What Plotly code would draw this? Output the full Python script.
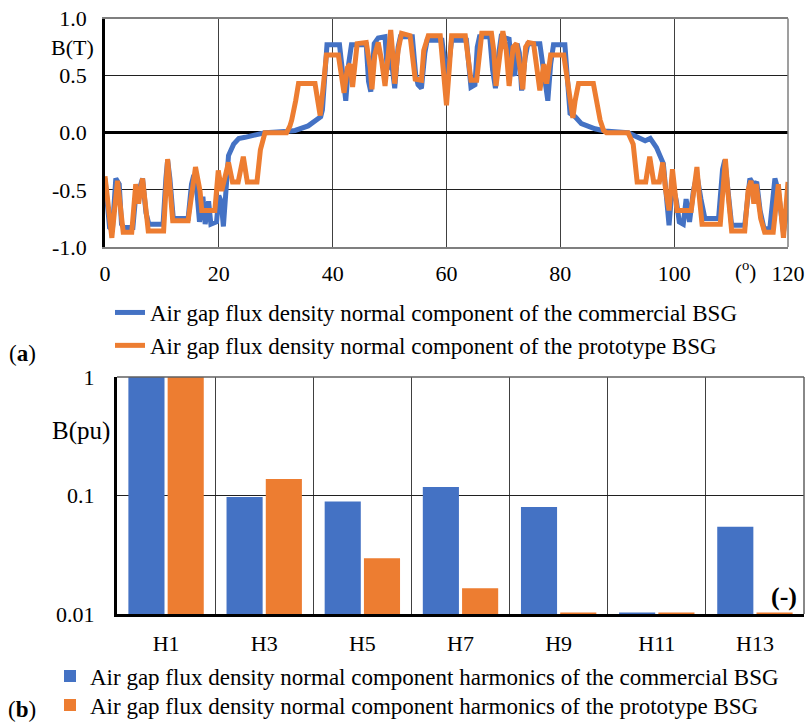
import plotly.graph_objects as go

# ---------- (a) air gap flux density waveform ----------
commercial_x = [0, 0.8, 1.3, 1.9, 2.5, 2.9, 3.3, 4.9, 5.4, 6.0, 6.6, 7.2, 7.7, 10.2, 10.7, 11.0, 11.4, 12.0,
                14.6, 15.2, 15.6, 16.2, 16.6, 17.2, 17.6, 18.2, 18.6, 19.6, 20.0, 20.4, 20.8, 21.2, 21.7, 22.6,
                23.5, 24.6, 26.5, 28.1, 31.6, 33.4, 35.7, 37.2, 37.9, 38.2, 38.6, 39.0, 41.2, 41.8, 42.3, 42.8,
                43.3, 45.9, 46.3, 46.7, 47.3, 48.0, 49.2, 49.6, 50.0, 50.4, 50.9, 51.5, 51.9, 54.0, 54.6, 55.0,
                55.6, 56.2, 56.6, 59.2, 59.6, 60.0, 60.4, 60.9, 63.5, 63.9, 64.3, 65.0, 65.4, 65.8, 67.6, 68.1,
                68.6, 69.2, 69.6, 71.0, 71.5, 72.0, 72.4, 72.8, 73.2, 73.8, 74.3, 76.4, 77.0, 77.5, 77.8, 78.3,
                78.8, 80.8, 81.3, 81.7, 82.6, 83.7, 86.1, 87.8, 91.9, 93.7, 94.9, 95.8, 96.9, 98.1, 98.7, 99.1,
                99.7, 100.4, 100.9, 101.6, 102.1, 102.7, 103.4, 104.0, 104.7, 105.4, 107.8, 108.5, 108.9, 109.3,
                110.1, 112.4, 113.3, 114.0, 114.5, 115.1, 115.8, 116.8, 117.7, 118.3, 119.2, 119.8, 120.0]
commercial_b = [-0.40, -0.83, -0.85, -0.40, -0.45, -0.80, -0.83, -0.83, -0.55, -0.50, -0.40, -0.70, -0.80, -0.80,
                -0.40, -0.24, -0.40, -0.75, -0.75, -0.45, -0.37, -0.55, -0.78, -0.56, -0.80, -0.60, -0.80, -0.78,
                -0.55, -0.60, -0.82, -0.50, -0.20, -0.10, -0.05, -0.04, -0.02, 0.00, 0.01, 0.02, 0.06, 0.11,
                0.14, 0.20, 0.55, 0.77, 0.77, 0.50, 0.28, 0.60, 0.77, 0.77, 0.45, 0.36, 0.78, 0.83, 0.84, 0.55,
                0.78, 0.60, 0.39, 0.75, 0.84, 0.84, 0.50, 0.42, 0.39, 0.70, 0.81, 0.81, 0.60, 0.50, 0.60, 0.81,
                0.81, 0.55, 0.40, 0.42, 0.75, 0.84, 0.84, 0.55, 0.39, 0.70, 0.84, 0.82, 0.55, 0.50, 0.78, 0.70,
                0.37, 0.65, 0.78, 0.78, 0.55, 0.40, 0.28, 0.60, 0.77, 0.77, 0.50, 0.17, 0.14, 0.08, 0.035, 0.015,
                0.00, -0.04, -0.07, -0.05, -0.13, -0.27, -0.56, -0.81, -0.45, -0.60, -0.78, -0.80, -0.58, -0.78,
                -0.50, -0.37, -0.58, -0.75, -0.75, -0.32, -0.24, -0.45, -0.81, -0.81, -0.40, -0.46, -0.43, -0.68,
                -0.84, -0.84, -0.40, -0.51, -0.87, -0.68, -0.56]

prototype_x = [0, 1.2, 2.2, 2.7, 3.2, 4.7, 5.4, 5.9, 6.6, 7.6, 10.3, 11.0, 11.9, 14.6, 15.9, 16.7, 17.0, 19.3,
               19.9, 20.5, 21.7, 22.4, 23.4, 24.3, 25.0, 26.7, 27.3, 28.1, 31.9, 32.5, 32.8, 33.5, 34.0, 36.9,
               37.4, 37.8, 38.4, 38.9, 41.0, 41.6, 42.0, 42.6, 43.1, 43.5, 44.3, 45.9, 46.6, 46.9, 47.4, 48.0,
               48.6, 49.2, 49.8, 50.2, 50.5, 50.9, 51.5, 52.1, 53.6, 54.2, 54.5, 55.6, 56.0, 56.8, 58.9, 59.4,
               60.0, 60.5, 60.9, 63.3, 63.8, 64.3, 65.3, 65.9, 66.2, 67.9, 68.3, 68.7, 69.4, 69.9, 70.5, 71.0,
               71.7, 72.3, 72.9, 73.4, 73.9, 74.4, 75.3, 75.8, 76.4, 77.1, 77.6, 78.3, 80.6, 81.1, 81.7, 82.2,
               82.6, 83.2, 85.8, 86.4, 87.0, 87.6, 88.1, 91.9, 92.8, 93.5, 95.0, 95.7, 96.4, 97.4, 98.0, 98.5,
               99.1, 99.7, 100.5, 103.0, 103.4, 104.0, 104.4, 104.9, 108.1, 108.6, 109.0, 109.5, 110.1, 112.4,
               113.0, 113.5, 114.0, 114.4, 115.2, 115.9, 117.4, 118.3, 119.2, 120.0]
prototype_b = [-0.38, -0.92, -0.42, -0.62, -0.87, -0.87, -0.45, -0.62, -0.40, -0.86, -0.86, -0.23, -0.77, -0.77,
               -0.30, -0.51, -0.68, -0.68, -0.33, -0.51, -0.26, -0.43, -0.43, -0.21, -0.43, -0.43, -0.15, 0.00,
               0.00, 0.06, 0.11, 0.28, 0.43, 0.43, 0.30, 0.15, 0.43, 0.68, 0.68, 0.46, 0.35, 0.57, 0.60, 0.40,
               0.78, 0.79, 0.57, 0.38, 0.68, 0.79, 0.63, 0.41, 0.78, 0.90, 0.72, 0.43, 0.72, 0.87, 0.85, 0.57,
               0.47, 0.46, 0.72, 0.85, 0.85, 0.57, 0.24, 0.57, 0.85, 0.85, 0.63, 0.46, 0.46, 0.78, 0.87, 0.87,
               0.72, 0.41, 0.72, 0.89, 0.72, 0.41, 0.75, 0.78, 0.57, 0.38, 0.75, 0.79, 0.78, 0.57, 0.37, 0.60,
               0.43, 0.68, 0.68, 0.51, 0.28, 0.13, 0.28, 0.43, 0.43, 0.28, 0.11, 0.02, 0.00, 0.00, -0.10, -0.43,
               -0.43, -0.21, -0.43, -0.43, -0.26, -0.50, -0.68, -0.32, -0.68, -0.68, -0.50, -0.30, -0.55, -0.80,
               -0.80, -0.45, -0.23, -0.55, -0.86, -0.86, -0.50, -0.42, -0.62, -0.45, -0.75, -0.87, -0.87, -0.45,
               -0.92, -0.43]

angle_ticks = [0, 20, 40, 60, 80, 100, 120]
b_ticks = [1.0, 0.5, 0.0, -0.5, -1.0]

# ---------- (b) harmonics ----------
harmonics = ["H1", "H3", "H5", "H7", "H9", "H11", "H13"]
harm_commercial = [1.0, 0.097, 0.089, 0.118, 0.080, 0.0103, 0.0545]
harm_prototype = [1.0, 0.138, 0.0295, 0.0165, 0.0103, 0.0103, 0.0103]

BLUE = "#4472C4"
ORANGE = "#ED7D31"
FONT = "Liberation Serif"
W, H = 806, 722
TICK = 22

def px_x(p):
    return p / W

def px_y(p):
    return 1 - p / H

fig = go.Figure()

fig.add_trace(go.Scatter(x=commercial_x, y=commercial_b, mode="lines",
                         line=dict(color=BLUE, width=5),
                         name="Air gap flux density normal component of the commercial BSG",
                         xaxis="x", yaxis="y", legend="legend", legendgroup="a1"))
fig.add_trace(go.Scatter(x=prototype_x, y=prototype_b, mode="lines",
                         line=dict(color=ORANGE, width=5),
                         name="Air gap flux density normal component of the prototype BSG",
                         xaxis="x", yaxis="y", legend="legend", legendgroup="a2"))

fig.add_trace(go.Bar(x=harmonics, y=harm_commercial, marker=dict(color=BLUE, line=dict(width=0)),
                     name="Air gap flux density normal component harmonics of the commercial BSG",
                     xaxis="x2", yaxis="y2", legend="legend2"))
fig.add_trace(go.Bar(x=harmonics, y=harm_prototype, marker=dict(color=ORANGE, line=dict(width=0)),
                     name="Air gap flux density normal component harmonics of the prototype BSG",
                     xaxis="x2", yaxis="y2", legend="legend3"))

top_dom_x = [px_x(105), px_x(788)]
top_dom_y = [px_y(247), px_y(18.5)]
bot_dom_x = [px_x(117), px_x(804)]
bot_dom_y = [px_y(614), px_y(377)]

fig.update_layout(
    width=W, height=H,
    margin=dict(l=0, r=0, t=0, b=0, autoexpand=False),
    paper_bgcolor="white", plot_bgcolor="white",
    font=dict(family=FONT, size=20, color="black"),
    bargap=0.2, bargroupgap=0.08,
    xaxis=dict(domain=top_dom_x, anchor="y", range=[0, 120], tickvals=angle_ticks,
               ticktext=[str(t) for t in angle_ticks], showgrid=True, gridcolor="#404040",
               gridwidth=1.3, zeroline=False, showline=True, linecolor="#7f7f7f", linewidth=1.5,
               mirror=True, ticks="", ticklabelstandoff=6, tickfont=dict(size=TICK),
               automargin=False),
    yaxis=dict(domain=top_dom_y, anchor="x", range=[-1, 1], tickvals=b_ticks,
               ticktext=["%.1f" % t for t in b_ticks], showgrid=True, gridcolor="#202020",
               gridwidth=1.3, zeroline=True, zerolinecolor="black", zerolinewidth=3,
               showline=True, linecolor="black", linewidth=2.5, ticks="",
               ticklabelstandoff=11, tickfont=dict(size=TICK), automargin=False),
    xaxis2=dict(domain=bot_dom_x, anchor="y2", type="category", tickson="boundaries",
                showgrid=True, gridcolor="#404040", gridwidth=1.2, showline=True,
                linecolor="black", linewidth=3, ticks="", ticklabelstandoff=8,
                tickfont=dict(size=TICK), automargin=False),
    yaxis2=dict(domain=bot_dom_y, anchor="x2", type="log", range=[-2, 0],
                tickvals=[0.01, 0.1, 1], ticktext=["0.01", "0.1", "1"], showgrid=True,
                gridcolor="#202020", gridwidth=1.2, showline=True, linecolor="black",
                linewidth=3, ticks="", ticklabelstandoff=15, tickfont=dict(size=TICK),
                automargin=False),
    legend=dict(x=px_x(110), y=px_y(291), xanchor="left", yanchor="top",
                bgcolor="rgba(0,0,0,0)", font=dict(size=23), tracegroupgap=8,
                traceorder="normal", itemwidth=30),
    legend2=dict(x=px_x(50), y=px_y(676), xanchor="left", yanchor="middle",
                 bgcolor="rgba(0,0,0,0)", font=dict(size=23), itemwidth=30),
    legend3=dict(x=px_x(50), y=px_y(705), xanchor="left", yanchor="middle",
                 bgcolor="rgba(0,0,0,0)", font=dict(size=23), itemwidth=30),
    showlegend=True,
)

# plot frames (top/right borders in grey)
fig.add_shape(type="line", xref="paper", yref="paper", x0=top_dom_x[1], x1=top_dom_x[1],
              y0=top_dom_y[0], y1=top_dom_y[1], line=dict(color="#7f7f7f", width=1.5))
fig.add_shape(type="line", xref="paper", yref="paper", x0=bot_dom_x[0], x1=bot_dom_x[1],
              y0=bot_dom_y[1], y1=bot_dom_y[1], line=dict(color="#606060", width=1.5))
fig.add_shape(type="line", xref="paper", yref="paper", x0=bot_dom_x[1], x1=bot_dom_x[1],
              y0=bot_dom_y[0], y1=bot_dom_y[1], line=dict(color="#606060", width=1.5))

ann = [
    dict(text="B(T)", x=px_x(72), y=px_y(47), size=22),
    dict(text="(<sup>o</sup>)", x=px_x(745), y=px_y(270), size=21),
    dict(text="(<b>a</b>)", x=px_x(22), y=px_y(353), size=23),
    dict(text="B(pu)", x=px_x(81), y=px_y(431), size=25),
    dict(text="<b>(-)</b>", x=px_x(784), y=px_y(596), size=26),
    dict(text="(<b>b</b>)", x=px_x(22), y=px_y(709), size=23),
]
for a in ann:
    fig.add_annotation(text=a["text"], x=a["x"], y=a["y"], xref="paper", yref="paper",
                       showarrow=False, xanchor="center", yanchor="middle",
                       font=dict(family=FONT, size=a.get("size", 20), color="black"))

fig.write_html("out.html", config={"displayModeBar": False},
               post_script="document.body.style.margin='0px';document.body.style.overflow='hidden';")
